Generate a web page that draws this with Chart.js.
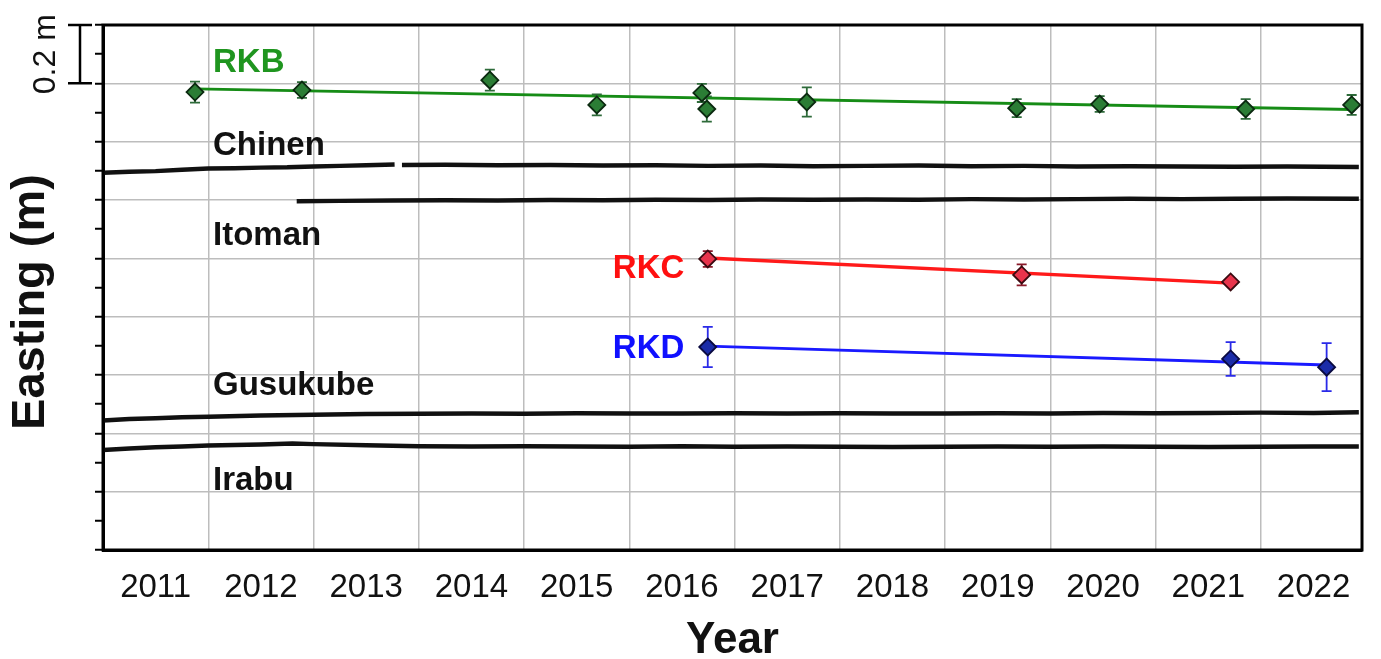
<!DOCTYPE html>
<html>
<head>
<meta charset="utf-8">
<title>Easting</title>
<script src="https://cdn.jsdelivr.net/npm/chart.js@4.4.1/dist/chart.umd.min.js"></script>
<style>
  html, body { margin: 0; padding: 0; background: #fff; }
  #wrap { width: 1381px; height: 659px; }
</style>
</head>
<body>
<div id="wrap"><canvas id="chartEast" width="1381" height="659"></canvas></div>
<script>
// tick labels (years)
const yearLabels = [2011, 2012, 2013, 2014, 2015, 2016, 2017, 2018, 2019, 2020, 2021, 2022];

// GNSS-A sites: epochs, easting offset (m), 1-sigma (m)
const rkbYears = [2011.874, 2012.890, 2014.675, 2015.691, 2016.689, 2016.736, 2017.686, 2019.680, 2020.468, 2021.855, 2022.862];
const rkbEast  = [1.570, 1.577, 1.611, 1.526, 1.567, 1.512, 1.536, 1.515, 1.529, 1.512, 1.526];
const rkbErr   = [0.036, 0.027, 0.036, 0.036, 0.031, 0.043, 0.050, 0.031, 0.027, 0.034, 0.034];
const rkbFitYears = [2011.874, 2022.862];
const rkbFit      = [1.581, 1.510];

const rkcYears = [2016.745, 2019.727, 2021.712];
const rkcEast  = [0.998, 0.943, 0.919];
const rkcErr   = [0.027, 0.036, 0.008];
const rkcFitYears = [2016.745, 2021.712];
const rkcFit      = [1.001, 0.915];

const rkdYears = [2016.745, 2021.712, 2022.624];
const rkdEast  = [0.696, 0.655, 0.627];
const rkdErr   = [0.069, 0.058, 0.082];
const rkdFitYears = [2016.745, 2022.624];
const rkdFit      = [0.699, 0.634];

// onshore GNSS stations
const chinenAYears = [2011.00, 2011.25, 2011.50, 2011.75, 2012.00, 2012.25, 2012.50, 2012.75, 2013.00, 2013.25, 2013.50, 2013.77];
const chinenAEast  = [1.293, 1.297, 1.299, 1.304, 1.308, 1.309, 1.311, 1.312, 1.315, 1.317, 1.319, 1.322];
const chinenBYears = [2013.84, 2014.25, 2014.75, 2015.25, 2015.75, 2016.25, 2016.75, 2017.25, 2017.75, 2018.25, 2018.75, 2019.25, 2019.75, 2020.25, 2020.75, 2021.25, 2021.75, 2022.25, 2022.93];
const chinenBEast  = [1.320, 1.321, 1.319, 1.320, 1.318, 1.319, 1.317, 1.318, 1.316, 1.317, 1.318, 1.316, 1.317, 1.315, 1.316, 1.315, 1.314, 1.315, 1.313];

const itomanYears = [2012.84, 2013.25, 2013.75, 2014.25, 2014.75, 2015.25, 2015.75, 2016.25, 2016.75, 2017.25, 2017.75, 2018.25, 2018.75, 2019.25, 2019.75, 2020.25, 2020.75, 2021.25, 2021.75, 2022.25, 2022.93];
const itomanEast  = [1.196, 1.197, 1.198, 1.199, 1.198, 1.200, 1.199, 1.201, 1.200, 1.202, 1.201, 1.202, 1.201, 1.203, 1.202, 1.203, 1.204, 1.203, 1.204, 1.205, 1.204];

const gusukubeYears = [2011.00, 2011.25, 2011.50, 2011.75, 2012.00, 2012.50, 2013.00, 2013.50, 2014.00, 2014.50, 2015.00, 2015.50, 2016.00, 2016.50, 2017.00, 2017.50, 2018.00, 2018.50, 2019.00, 2019.50, 2020.00, 2020.50, 2021.00, 2021.50, 2022.00, 2022.50, 2022.93];
const gusukubeEast  = [0.444, 0.449, 0.452, 0.455, 0.457, 0.461, 0.464, 0.466, 0.467, 0.468, 0.467, 0.469, 0.468, 0.468, 0.469, 0.468, 0.469, 0.468, 0.468, 0.469, 0.468, 0.470, 0.469, 0.470, 0.471, 0.470, 0.472];

const irabuYears = [2011.00, 2011.25, 2011.50, 2011.75, 2012.00, 2012.25, 2012.50, 2012.80, 2013.00, 2013.50, 2014.00, 2014.50, 2015.00, 2015.50, 2016.00, 2016.50, 2017.00, 2017.50, 2018.00, 2018.50, 2019.00, 2019.50, 2020.00, 2020.50, 2021.00, 2021.50, 2022.00, 2022.50, 2022.93];
const irabuEast  = [0.343, 0.348, 0.352, 0.355, 0.358, 0.360, 0.362, 0.365, 0.363, 0.359, 0.356, 0.355, 0.356, 0.355, 0.354, 0.356, 0.354, 0.355, 0.354, 0.353, 0.354, 0.355, 0.354, 0.355, 0.354, 0.353, 0.354, 0.355, 0.355];

// text labels: [text, year, east, colour]
const siteLabels = [
  ['RKB', 2012.045, 1.639, '#1f951f'],
  ['Chinen', 2012.045, 1.354, '#111'],
  ['Itoman', 2012.045, 1.046, '#111'],
  ['Gusukube', 2012.045, 0.531, '#111'],
  ['Irabu', 2012.045, 0.206, '#111'],
  ['RKC', 2015.843, 0.933, '#ff1010'],
  ['RKD', 2015.843, 0.658, '#1010ff']
];

const FONT = '"Liberation Sans", Arial, Helvetica, sans-serif';

function xy(xs, ys) {
  return xs.map((x, i) => ({ x: x, y: ys[i] }));
}

function gnssLine(xs, ys) {
  return { data: xy(xs, ys), showLine: true, pointRadius: 0, borderColor: '#111', borderWidth: 4.5 };
}

function fitLine(xs, ys, color, w) {
  return { data: xy(xs, ys), showLine: true, pointRadius: 0, borderColor: color, borderWidth: w };
}

function sitePoints(xs, ys, errs, fill, edge, barColor) {
  return {
    data: xy(xs, ys), errors: errs, barColor: barColor, showLine: false,
    pointStyle: 'rectRot', pointRadius: 8.5, pointHoverRadius: 8.5,
    backgroundColor: fill, borderColor: edge, borderWidth: 1.8
  };
}

const errorBars = {
  id: 'errorBars',
  beforeDatasetDraw(chart, args) {
    const ds = chart.data.datasets[args.index];
    if (!ds.errors) return;
    const ctx = chart.ctx, xs = chart.scales.x, ys = chart.scales.y;
    ctx.save();
    ctx.strokeStyle = ds.barColor;
    ctx.lineWidth = 1.8;
    ds.data.forEach((p, i) => {
      const px = xs.getPixelForValue(p.x);
      const top = ys.getPixelForValue(p.y + ds.errors[i]);
      const bot = ys.getPixelForValue(p.y - ds.errors[i]);
      ctx.beginPath();
      ctx.moveTo(px, top); ctx.lineTo(px, bot);
      ctx.moveTo(px - 5, top); ctx.lineTo(px + 5, top);
      ctx.moveTo(px - 5, bot); ctx.lineTo(px + 5, bot);
      ctx.stroke();
    });
    ctx.restore();
  }
};

const decorations = {
  id: 'decorations',
  afterDraw(chart) {
    const ctx = chart.ctx, a = chart.chartArea, xs = chart.scales.x, ys = chart.scales.y;
    ctx.save();
    // frame
    ctx.strokeStyle = '#000';
    ctx.lineWidth = 3;
    ctx.strokeRect(a.left, a.top, a.right - a.left, a.bottom - a.top);

    // site names
    ctx.font = 'bold 33px ' + FONT;
    ctx.textAlign = 'left';
    ctx.textBaseline = 'alphabetic';
    siteLabels.forEach(l => {
      ctx.fillStyle = l[3];
      ctx.fillText(l[0], xs.getPixelForValue(l[1]), ys.getPixelForValue(l[2]));
    });

    // 0.2 m scale bar
    const bx = a.left - 23;
    const y1 = ys.getPixelForValue(1.8), y2 = ys.getPixelForValue(1.6);
    ctx.lineWidth = 2.5;
    ctx.beginPath();
    ctx.moveTo(bx, y1); ctx.lineTo(bx, y2);
    ctx.moveTo(bx - 12, y1); ctx.lineTo(bx + 12, y1);
    ctx.moveTo(bx - 12, y2); ctx.lineTo(bx + 12, y2);
    ctx.stroke();
    ctx.fillStyle = '#111';
    ctx.font = '32px ' + FONT;
    ctx.textAlign = 'center';
    ctx.save();
    ctx.translate(55, (y1 + y2) / 2);
    ctx.rotate(-Math.PI / 2);
    ctx.fillText('0.2 m', 0, 0);
    ctx.restore();

    // axis titles
    ctx.font = 'bold 47px ' + FONT;
    ctx.save();
    ctx.translate(44, 302);
    ctx.rotate(-Math.PI / 2);
    ctx.fillText('Easting (m)', 0, 0);
    ctx.restore();
    ctx.font = 'bold 44px ' + FONT;
    ctx.fillText('Year', (a.left + a.right) / 2, 653);
    ctx.restore();
  }
};

new Chart(document.getElementById('chartEast'), {
  type: 'scatter',
  data: {
    datasets: [
      sitePoints(rkbYears, rkbEast, rkbErr, '#2b7d35', '#0b2a10', '#2e6b3a'),
      sitePoints(rkcYears, rkcEast, rkcErr, '#e8344c', '#3a0a10', '#8a1a2a'),
      sitePoints(rkdYears, rkdEast, rkdErr, '#1b2ca8', '#0a0a40', '#2a2ae8'),
      fitLine(rkbFitYears, rkbFit, '#168c16', 3),
      fitLine(rkcFitYears, rkcFit, '#ff1a1a', 3.5),
      fitLine(rkdFitYears, rkdFit, '#1a1aff', 3),
      gnssLine(chinenAYears, chinenAEast),
      gnssLine(chinenBYears, chinenBEast),
      gnssLine(itomanYears, itomanEast),
      gnssLine(gusukubeYears, gusukubeEast),
      gnssLine(irabuYears, irabuEast)
    ]
  },
  options: {
    responsive: false,
    devicePixelRatio: 1,
    animation: false,
    layout: { padding: { top: 25, right: 19, left: 0, bottom: 0 } },
    plugins: { legend: { display: false }, tooltip: { enabled: false } },
    scales: {
      x: {
        type: 'linear',
        min: 2011,
        max: 2022.96,
        afterBuildTicks(scale) {
          const t = [];
          yearLabels.forEach(y => { t.push({ value: y }); t.push({ value: y + 0.5 }); });
          scale.ticks = t;
        },
        afterFit(scale) { scale.height = 109; },
        grid: {
          color: c => (c.tick && Number.isInteger(c.tick.value)) ? '#bdbdbd' : 'rgba(0,0,0,0)',
          lineWidth: 1.5,
          drawTicks: false
        },
        border: { display: true, color: '#000', width: 3 },
        ticks: {
          autoSkip: false,
          maxRotation: 0,
          padding: 18,
          color: '#111',
          font: { family: FONT, size: 33 },
          callback: v => Number.isInteger(v) ? '' : String(Math.floor(v))
        }
      },
      y: {
        type: 'linear',
        min: 0,
        max: 1.8,
        afterBuildTicks(scale) {
          const t = [];
          for (let i = 0; i <= 18; i++) t.push({ value: i / 10 });
          scale.ticks = t;
        },
        afterFit(scale) { scale.width = 103; },
        grid: {
          color: c => (c.tick && Math.round(c.tick.value * 10) % 2 === 0) ? '#bdbdbd' : 'rgba(0,0,0,0)',
          lineWidth: 1.5,
          tickColor: '#000',
          tickWidth: 2,
          tickLength: 8
        },
        border: { display: true, color: '#000', width: 3 },
        ticks: { display: false }
      }
    }
  },
  plugins: [errorBars, decorations]
});
</script>
</body>
</html>
